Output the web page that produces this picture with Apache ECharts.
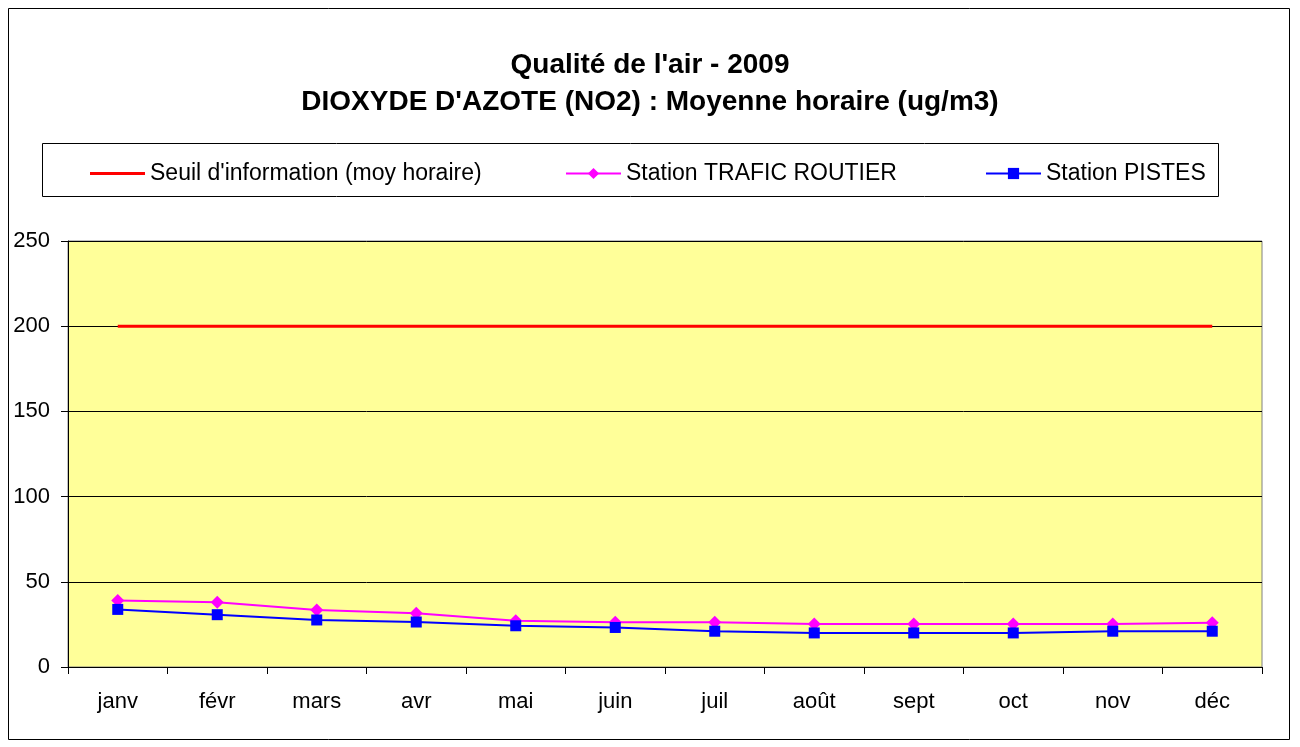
<!DOCTYPE html>
<html>
<head>
<meta charset="utf-8">
<script src="https://cdn.jsdelivr.net/npm/echarts@6/dist/echarts.min.js"></script>
<style>
html,body{margin:0;padding:0;background:#fff;}
#chart{width:1300px;height:747px;}
</style>
</head>
<body>
<div id="chart"></div>
<script>
var months=['janv','févr','mars','avr','mai','juin','juil','août','sept','oct','nov','déc'];
var seuil=[200,200,200,200,200,200,200,200,200,200,200,200];
var trafic=[39,38,33.5,31.5,27.2,26.2,26.2,25.2,25.2,25.2,25.2,26];
var pistes=[33.8,30.7,27.6,26.4,24.2,23.2,21,20,20,20,21,21];
var yTicks=[0,50,100,150,200,250];

var contener=document.getElementById('chart');
var myChart=echarts.init(contener);
var font='"Liberation Sans", Arial, sans-serif';
var legendText={fontSize:23,color:'#000',fontFamily:font};
var option={
    animation:false,
    backgroundColor:'#fff',
    textStyle:{fontFamily:font},
    title:{
        text:"Qualité de l'air - 2009\nDIOXYDE D'AZOTE (NO2) : Moyenne horaire (ug/m3)",
        left:'center',
        top:42,
        textStyle:{fontSize:28,fontWeight:'bold',color:'#000',lineHeight:37,fontFamily:font}
    },
    graphic:[
        {type:'rect',shape:{x:8.5,y:8.5,width:1281,height:731},style:{fill:null,stroke:'#000',lineWidth:1},silent:true,z:-1},
        {type:'rect',shape:{x:42.5,y:143.5,width:1176,height:53},style:{fill:'#fff',stroke:'#000',lineWidth:1},silent:true,z:-1}
    ],
    legend:[
        {data:[{name:"Seuil d'information (moy horaire)",icon:'rect'}],left:85,top:157,itemWidth:55,itemHeight:3,
         textStyle:legendText},
        {data:['Station TRAFIC ROUTIER'],left:560,top:157,itemWidth:55,itemHeight:14,
         textStyle:legendText},
        {data:['Station PISTES'],left:980,top:157,itemWidth:55,itemHeight:14,
         textStyle:legendText}
    ],
    grid:{
        left:68,
        right:38,
        top:241,
        bottom:80,
        show:true,
        backgroundColor:'#FFFF99',
        borderColor:'#808080',
        borderWidth:1
    },
    xAxis:{
        type:'category',
        data:months,
        boundaryGap:true,
        axisLine:{lineStyle:{color:'#000'}},
        axisTick:{show:true,length:7,lineStyle:{color:'#000'}},
        axisLabel:{fontSize:22,color:'#000',margin:24,fontFamily:font}
    },
    yAxis:{
        type:'value',
        min:yTicks[0],
        max:yTicks[yTicks.length-1],
        interval:50,
        axisLine:{show:true,lineStyle:{color:'#000'}},
        axisTick:{show:true,length:7,lineStyle:{color:'#000'}},
        axisLabel:{fontSize:22,color:'#000',margin:18,fontFamily:font},
        splitLine:{lineStyle:{color:'#000',width:1}}
    },
    series:[
        {
            name:"Seuil d'information (moy horaire)",
            type:'line',
            data:seuil,
            symbol:'none',
            lineStyle:{color:'#FF0000',width:3},
            itemStyle:{color:'#FF0000'}
        },
        {
            name:'Station TRAFIC ROUTIER',
            type:'line',
            data:trafic,
            symbol:'diamond',
            symbolSize:13,
            lineStyle:{color:'#FF00FF',width:2},
            itemStyle:{color:'#FF00FF'}
        },
        {
            name:'Station PISTES',
            type:'line',
            data:pistes,
            symbol:'rect',
            symbolSize:11,
            lineStyle:{color:'#0000FF',width:2},
            itemStyle:{color:'#0000FF'}
        }
    ]
};
myChart.setOption(option);
</script>
</body>
</html>
